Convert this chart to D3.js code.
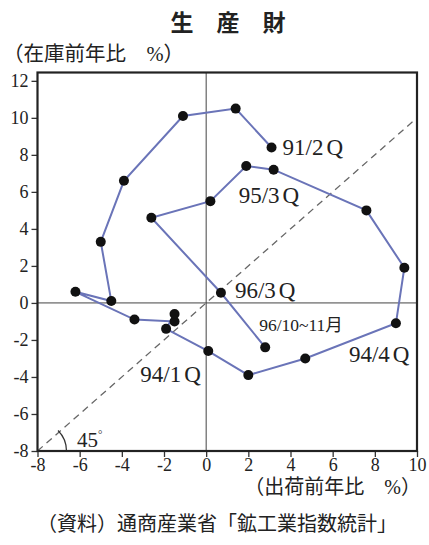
<!DOCTYPE html>
<html>
<head>
<meta charset="utf-8">
<script src="https://cdn.jsdelivr.net/npm/d3@7"></script>
<style>
  body { margin: 0; background: #fff; }
  text { font-family: "Liberation Serif", "Noto Sans CJK JP", serif; fill: #222; }
</style>
</head>
<body>
<div id="chart"></div>
<script>
// quarters from 91/2Q to 96/3Q, then 96/10~11 month average
var periods = ["91/2", "91/3", "91/4", "92/1", "92/2", "92/3", "92/4", "93/1", "93/2", "93/3", "93/4",
               "94/1", "94/2", "94/3", "94/4", "95/1", "95/2", "95/3", "95/4", "96/1", "96/2", "96/3", "96/10-11"];
// shipments, year on year %
var shipments = [3.1, 1.4, -1.1, -3.9, -5.0, -4.5, -6.2, -3.4, -1.5, -1.5, -1.9,
                 0.1, 2.0, 4.7, 9.0, 9.4, 7.6, 3.2, 1.9, 0.2, -2.6, 0.7, 2.8];
// inventory, year on year %
var inventory = [8.4, 10.5, 10.1, 6.6, 3.3, 0.1, 0.6, -0.9, -1.0, -0.6, -1.4,
                 -2.6, -3.9, -3.0, -1.1, 1.9, 5.0, 7.2, 7.4, 5.5, 4.6, 0.55, -2.4];
var xTicks = [-8, -6, -4, -2, 0, 2, 4, 6, 8, 10];
var yTicks = [-8, -6, -4, -2, 0, 2, 4, 6, 8, 10, 12];
// which points get a label
var labelPeriods = ["91/2", "95/3", "96/3", "96/10-11", "94/4", "94/1"];
var labelNames = ["91/2", "95/3", "96/3", "96/10~11月", "94/4", "94/1"];
var labelSuffix = ["Q", "Q", "Q", "", "Q", "Q"];

var W = 429, H = 545;
var svg = d3.select("#chart").append("svg").attr("width", W).attr("height", H);

var x = d3.scaleLinear().domain([-8, 10]).range([37.5, 417]);
var y = d3.scaleLinear().domain([-8, 12.45]).range([451, 72.5]);

var data = periods.map(function (p, i) {
  return { period: p, ship: shipments[i], inv: inventory[i] };
});

// title and axis captions
svg.append("text").attr("x", 228).attr("y", 31).attr("text-anchor", "middle")
  .style("font-size", "23px").style("font-weight", "600").text("生　産　財");
svg.append("text").attr("x", 3).attr("y", 61).style("font-size", "20.5px").text("（在庫前年比　%）");
svg.append("text").attr("x", 421).attr("y", 494).attr("text-anchor", "end")
  .style("font-size", "20px").text("（出荷前年比　%）");
svg.append("text").attr("x", 217).attr("y", 531).attr("text-anchor", "middle")
  .style("font-size", "20px").text("（資料）通商産業省「鉱工業指数統計」");

// axes (plain hyphen for negatives, as in the print)
var fmt = function (d) { return String(d); };
var xAxis = svg.append("g").attr("transform", "translate(0," + y(-8) + ")")
  .call(d3.axisBottom(x).tickValues(xTicks).tickSize(6).tickPadding(1).tickFormat(fmt));
var yAxis = svg.append("g").attr("transform", "translate(" + x(-8) + ",0)")
  .call(d3.axisLeft(y).tickValues(yTicks).tickSize(6).tickPadding(3).tickFormat(fmt));
[xAxis, yAxis].forEach(function (g) {
  g.select(".domain").remove();
  g.selectAll("line").attr("stroke", "#333").attr("stroke-width", 1.3);
  g.selectAll("text").style("font-size", "18px").style("font-family", "Liberation Serif").attr("fill", "#222");
});

// zero lines
svg.append("line").attr("x1", x(0)).attr("x2", x(0)).attr("y1", y(12.45)).attr("y2", y(-8))
  .attr("stroke", "#444").attr("stroke-width", 1);
svg.append("line").attr("x1", x(-8)).attr("x2", x(10)).attr("y1", y(0)).attr("y2", y(0))
  .attr("stroke", "#444").attr("stroke-width", 1);

// 45 degree line
svg.append("line").attr("x1", x(-8)).attr("y1", y(-8)).attr("x2", x(10)).attr("y2", y(10))
  .attr("stroke", "#666").attr("stroke-width", 1.3).attr("stroke-dasharray", "7,5");
var arc = d3.arc().innerRadius(29).outerRadius(29).startAngle(Math.PI / 4).endAngle(Math.PI / 2);
svg.append("path").attr("transform", "translate(" + x(-8) + "," + y(-8) + ")")
  .attr("d", arc()).attr("fill", "none").attr("stroke", "#333").attr("stroke-width", 1.2);
var t45 = svg.append("text").attr("x", 77).attr("y", 447).style("font-size", "21px").text("45");
t45.append("tspan").attr("dy", -9).style("font-size", "11px").text("°");

// frame
svg.append("rect").attr("x", x(-8)).attr("y", y(12.45)).attr("width", x(10) - x(-8)).attr("height", y(-8) - y(12.45))
  .attr("fill", "none").attr("stroke", "#222").attr("stroke-width", 2.2);

// path and points
var line = d3.line().x(function (d) { return x(d.ship); }).y(function (d) { return y(d.inv); });
svg.append("path").datum(data).attr("d", line).attr("fill", "none")
  .attr("stroke", "#6a74b8").attr("stroke-width", 2);
svg.selectAll(".dot").data(data).enter().append("circle").attr("class", "dot")
  .attr("cx", function (d) { return x(d.ship); }).attr("cy", function (d) { return y(d.inv); })
  .attr("r", 5).attr("fill", "#111");

// labels, offsets from their point in pixels
var labelOffsets = {
  "91/2": [11, 8, 23], "95/3": [-35, 33, 23], "96/3": [14, 5, 23],
  "96/10-11": [-6, -16, 17.5], "94/4": [-47, 39, 23], "94/1": [-68, 31, 23]
};
labelPeriods.forEach(function (p, i) {
  var d = data.filter(function (e) { return e.period == p; })[0];
  var off = labelOffsets[p];
  var t = svg.append("text").attr("x", x(d.ship) + off[0]).attr("y", y(d.inv) + off[1])
    .style("font-size", off[2] + "px").text(labelNames[i]);
  if (labelSuffix[i]) t.append("tspan").attr("dx", 3).text(labelSuffix[i]);
});
</script>
</body>
</html>
